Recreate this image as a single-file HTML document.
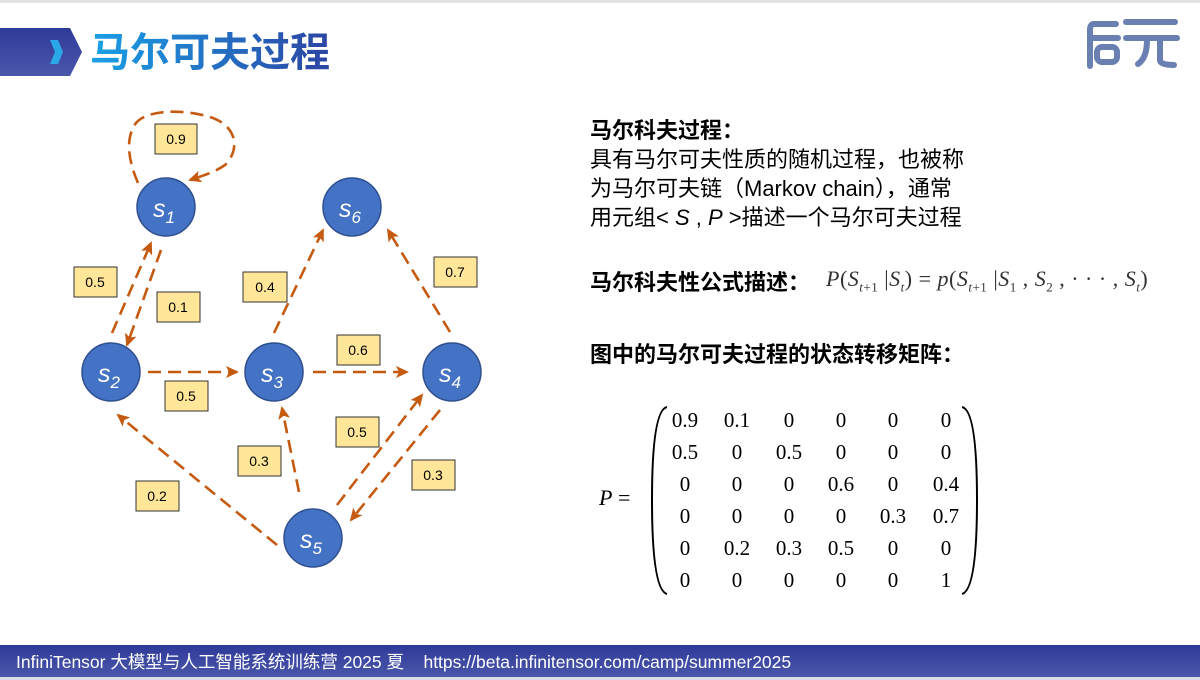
<!DOCTYPE html>
<html><head><meta charset="utf-8">
<style>
body{margin:0;width:1200px;height:680px;overflow:hidden;background:#fff;position:relative;font-family:"Liberation Sans","Noto Sans CJK SC",sans-serif;}
.abs{position:absolute;}
.t{font-size:22px;color:#000;line-height:29px;}
.m{font-family:"Liberation Serif","DejaVu Serif",serif;font-size:21px;position:absolute;transform:translateX(-50%);}
</style></head><body>
<div class="abs" style="left:0;top:0;width:1200px;height:3px;background:#e3e3e3"></div>
<svg class="abs" style="left:0;top:0" width="1200" height="680">
<defs><linearGradient id="bg" x1="0" y1="0" x2="0" y2="1"><stop offset="0" stop-color="#2e3a98"/><stop offset="1" stop-color="#4b57ab"/></linearGradient>
<linearGradient id="tg" x1="0" y1="0" x2="1" y2="0"><stop offset="0" stop-color="#1aa0e6"/><stop offset="1" stop-color="#2c45a3"/></linearGradient>
<marker id="ah" markerWidth="14" markerHeight="14" refX="11" refY="6" orient="auto" markerUnits="userSpaceOnUse"><path d="M0,0 L13,6 L0,12 L3,6 z" fill="#c55a11"/></marker></defs>
<path d="M0,28 L70,28 L82,52 L70,76 L0,76 z" fill="url(#bg)"/>
<path d="M50,40 L58,40 L63,52 L58,64 L50,64 L55,52 z" fill="#2aa8e8"/>
<text x="90" y="66" font-size="40" font-weight="bold" fill="url(#tg)" font-family="Liberation Sans,Noto Sans CJK SC,sans-serif">马尔可夫过程</text>
<g fill="none" stroke="#6a7fb2" stroke-width="6" stroke-linecap="round">
<path d="M1116,24 L1094,24 Q1090,24 1090,30 L1090,66"/><path d="M1093,38 L1118,38"/><rect x="1097" y="47" width="20" height="15" rx="5"/>
<path d="M1126,22 L1175,22"/><path d="M1126,38 L1177,38"/><path d="M1147,40 Q1147,58 1138,64"/><path d="M1160,40 L1160,60 Q1160,65 1174,65"/>
</g>
<rect x="0" y="645" width="1200" height="32" fill="url(#bg)"/>
<rect x="0" y="677" width="1200" height="3" fill="#dcdde6"/>
<text x="16" y="668" font-size="17.5" fill="#fff" font-family="Liberation Sans,Noto Sans CJK SC,sans-serif">InfiniTensor 大模型与人工智能系统训练营 2025 夏 &#160;&#160;&#160;https://beta.infinitensor.com/camp/summer2025</text>
<g stroke="#c55a11" stroke-width="2.6" stroke-dasharray="13,7" fill="none" marker-end="url(#ah)">
<path d="M138,183 C128,160 126,140 134,126 C142,110 180,108 210,117 C238,126 240,150 225,165 C215,172 205,175 190,180"/>
<line x1="112" y1="333" x2="151" y2="243"/>
<line x1="161" y1="250" x2="127" y2="345"/>
<line x1="148" y1="372" x2="237" y2="372"/>
<line x1="313" y1="372" x2="407" y2="372"/>
<line x1="274" y1="333" x2="323" y2="230"/>
<line x1="450" y1="332" x2="388" y2="230"/>
<line x1="277" y1="545" x2="118" y2="415"/>
<line x1="299" y1="492" x2="282" y2="408"/>
<line x1="337" y1="505" x2="422" y2="395"/>
<line x1="440" y1="410" x2="351" y2="520"/>
</g>
<g fill="#4472c4" stroke="#2f4f8f" stroke-width="1.5">
<circle cx="166" cy="207" r="29"/><circle cx="352" cy="207" r="29"/><circle cx="111" cy="372" r="29"/>
<circle cx="274" cy="372" r="29"/><circle cx="452" cy="372" r="29"/><circle cx="313" cy="538" r="29"/>
</g>
<g fill="#fff" font-size="25" font-style="italic" font-family="Liberation Sans,sans-serif">
<text x="153" y="217">s<tspan font-size="17" dy="6">1</tspan></text>
<text x="339" y="217">s<tspan font-size="17" dy="6">6</tspan></text>
<text x="98" y="382">s<tspan font-size="17" dy="6">2</tspan></text>
<text x="261" y="382">s<tspan font-size="17" dy="6">3</tspan></text>
<text x="439" y="382">s<tspan font-size="17" dy="6">4</tspan></text>
<text x="300" y="548">s<tspan font-size="17" dy="6">5</tspan></text>
</g>
<g fill="#ffe699" stroke="#333" stroke-width="1">
<rect x="155" y="124" width="42" height="30"/><rect x="74" y="267" width="43" height="30"/>
<rect x="157" y="292" width="43" height="30"/><rect x="243" y="272" width="44" height="30"/>
<rect x="434" y="257" width="43" height="30"/><rect x="337" y="335" width="43" height="30"/>
<rect x="165" y="381" width="43" height="30"/><rect x="336" y="417" width="43" height="30"/>
<rect x="238" y="446" width="43" height="30"/><rect x="412" y="460" width="43" height="30"/>
<rect x="136" y="481" width="43" height="30"/>
</g>
<g font-size="14" text-anchor="middle" fill="#000" font-family="Liberation Sans,sans-serif">
<text x="176" y="144">0.9</text><text x="95" y="287">0.5</text><text x="178" y="312">0.1</text>
<text x="265" y="292">0.4</text><text x="455" y="277">0.7</text><text x="358" y="355">0.6</text>
<text x="186" y="401">0.5</text><text x="357" y="437">0.5</text><text x="259" y="466">0.3</text>
<text x="433" y="480">0.3</text><text x="157" y="501">0.2</text>
</g>
<path d="M667,407 Q652,410 652,500 Q652,590 667,594" fill="none" stroke="#000" stroke-width="2"/>
<path d="M962,407 Q977,410 977,500 Q977,590 962,594" fill="none" stroke="#000" stroke-width="2"/>
</svg>
<div class="abs t" style="left:590px;top:116px"><b>马尔科夫过程：</b><br>具有马尔可夫性质的随机过程，也被称<br>为马尔可夫链（Markov chain），通常<br>用元组&lt; <i>S</i> , <i>P</i> &gt;描述一个马尔可夫过程</div>
<div class="abs t" style="left:590px;top:268px"><b>马尔科夫性公式描述：</b></div>
<div class="abs" style="left:826px;top:266px;font-family:'Liberation Serif',serif;font-size:22px;color:#333;letter-spacing:0.5px"><i>P</i>(<i>S</i><sub style="font-size:13px"><i>t</i>+1</sub> |<i>S</i><sub style="font-size:13px"><i>t</i></sub>) = <i>p</i>(<i>S</i><sub style="font-size:13px"><i>t</i>+1</sub> |<i>S</i><sub style="font-size:13px">1</sub> , <i>S</i><sub style="font-size:13px">2</sub> , · · · , <i>S</i><sub style="font-size:13px"><i>t</i></sub>)</div>
<div class="abs t" style="left:590px;top:340px"><b>图中的马尔可夫过程的状态转移矩阵：</b></div>
<div class="abs" style="left:599px;top:485px;font-family:'Liberation Serif',serif;font-size:22px"><i>P</i> =</div>
<div class="abs" style="left:0;top:0">
<span class="m" style="left:685px;top:408px">0.9</span><span class="m" style="left:737px;top:408px">0.1</span><span class="m" style="left:789px;top:408px">0</span><span class="m" style="left:841px;top:408px">0</span><span class="m" style="left:893px;top:408px">0</span><span class="m" style="left:946px;top:408px">0</span>
<span class="m" style="left:685px;top:440px">0.5</span><span class="m" style="left:737px;top:440px">0</span><span class="m" style="left:789px;top:440px">0.5</span><span class="m" style="left:841px;top:440px">0</span><span class="m" style="left:893px;top:440px">0</span><span class="m" style="left:946px;top:440px">0</span>
<span class="m" style="left:685px;top:472px">0</span><span class="m" style="left:737px;top:472px">0</span><span class="m" style="left:789px;top:472px">0</span><span class="m" style="left:841px;top:472px">0.6</span><span class="m" style="left:893px;top:472px">0</span><span class="m" style="left:946px;top:472px">0.4</span>
<span class="m" style="left:685px;top:504px">0</span><span class="m" style="left:737px;top:504px">0</span><span class="m" style="left:789px;top:504px">0</span><span class="m" style="left:841px;top:504px">0</span><span class="m" style="left:893px;top:504px">0.3</span><span class="m" style="left:946px;top:504px">0.7</span>
<span class="m" style="left:685px;top:536px">0</span><span class="m" style="left:737px;top:536px">0.2</span><span class="m" style="left:789px;top:536px">0.3</span><span class="m" style="left:841px;top:536px">0.5</span><span class="m" style="left:893px;top:536px">0</span><span class="m" style="left:946px;top:536px">0</span>
<span class="m" style="left:685px;top:568px">0</span><span class="m" style="left:737px;top:568px">0</span><span class="m" style="left:789px;top:568px">0</span><span class="m" style="left:841px;top:568px">0</span><span class="m" style="left:893px;top:568px">0</span><span class="m" style="left:946px;top:568px">1</span>
</div>
</body></html>
